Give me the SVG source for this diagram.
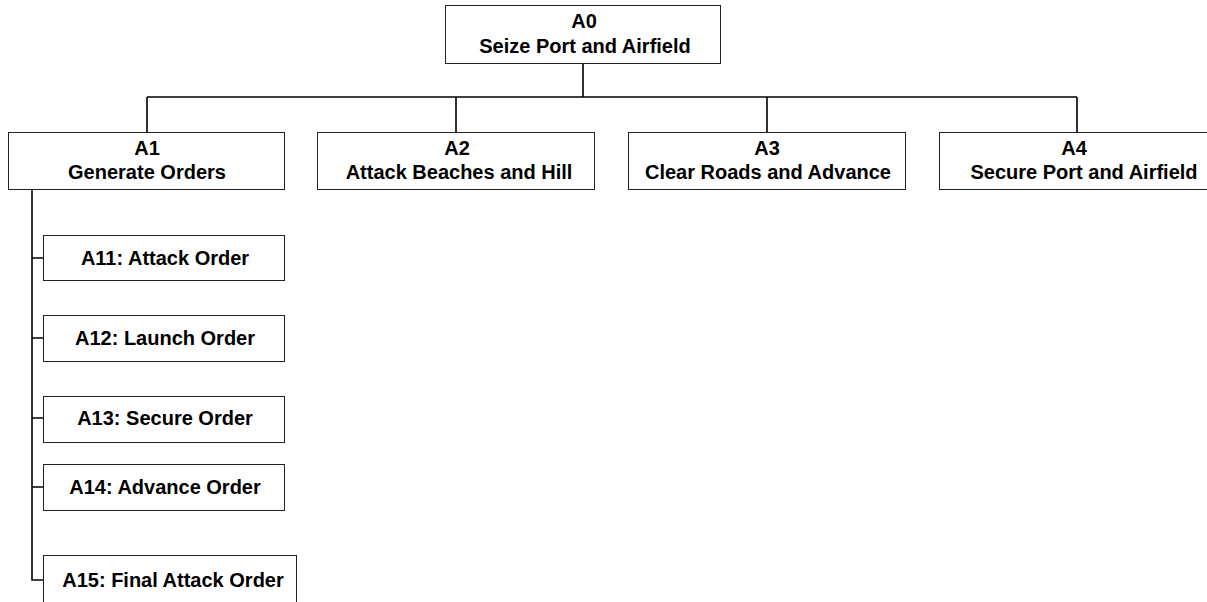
<svg xmlns="http://www.w3.org/2000/svg" width="1207" height="602" viewBox="0 0 1207 602">
<style>
.box{fill:#fff;stroke:#222;stroke-width:1}
.t{font-family:"Liberation Sans",Arial,sans-serif;font-weight:bold;font-size:20px;fill:#000;text-anchor:middle}
.c{fill:none;stroke:#000;stroke-width:1.6}
</style>
<rect width="1207" height="602" fill="#fff"/>
<g id="connectors">
<path class="c" d="M583 63V97M147 97H1077M147 97V132M456 97V132M767 97V132M1077 97V132"/>
<path class="c" d="M32 189V580H43M32 258H43M32 338H43M32 418H43M32 487H43"/>
</g>
<g id="A0"><rect class="box" x="445.5" y="5.5" width="275" height="58"/><text class="t" x="584" y="28">A0</text><text class="t" x="585" y="53">Seize Port and Airfield</text></g>
<g id="A1"><rect class="box" x="8.5" y="132.5" width="276" height="57"/><text class="t" x="147" y="155">A1</text><text class="t" x="147" y="179">Generate Orders</text></g>
<g id="A2"><rect class="box" x="317.5" y="132.5" width="277" height="57"/><text class="t" x="457" y="155">A2</text><text class="t" x="459" y="179">Attack Beaches and Hill</text></g>
<g id="A3"><rect class="box" x="628.5" y="132.5" width="277" height="57"/><text class="t" x="767" y="155">A3</text><text class="t" x="768" y="179">Clear Roads and Advance</text></g>
<g id="A4"><rect class="box" x="939.5" y="132.5" width="290" height="57"/><text class="t" x="1074" y="155">A4</text><text class="t" x="1084" y="179">Secure Port and Airfield</text></g>
<g id="A11"><rect class="box" x="43.5" y="235.5" width="241" height="45"/><text class="t" x="165" y="265">A11: Attack Order</text></g>
<g id="A12"><rect class="box" x="43.5" y="315.5" width="241" height="46"/><text class="t" x="165" y="345">A12: Launch Order</text></g>
<g id="A13"><rect class="box" x="43.5" y="396.5" width="241" height="46"/><text class="t" x="165" y="425">A13: Secure Order</text></g>
<g id="A14"><rect class="box" x="43.5" y="464.5" width="241" height="46"/><text class="t" x="165" y="494">A14: Advance Order</text></g>
<g id="A15"><rect class="box" x="43.5" y="555.5" width="253" height="60"/><text class="t" x="173" y="587">A15: Final Attack Order</text></g>
</svg>
